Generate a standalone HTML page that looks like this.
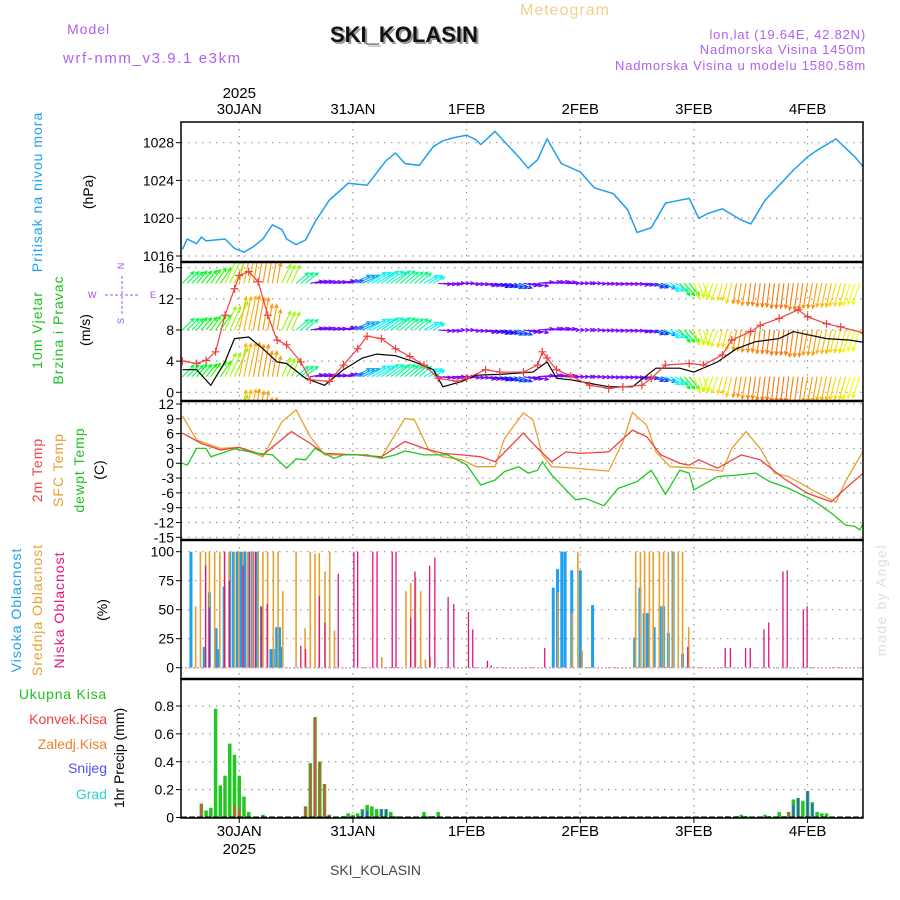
<!DOCTYPE html>
<html><head><meta charset="utf-8"><style>
html,body{margin:0;padding:0;background:#fff}
svg{display:block}
text{font-family:"Liberation Sans",sans-serif}
</style></head><body>
<svg id="chart" width="900" height="900" viewBox="0 0 900 900" xmlns="http://www.w3.org/2000/svg">
<rect x="0" y="0" width="900" height="900" fill="#fff"/>
<g id="texts">
<text x="520" y="15" font-size="16" fill="#f3cf8e" letter-spacing="1">Meteogram</text>
<text x="67" y="34" font-size="14" fill="#b060f0" letter-spacing="1">Model</text>
<text x="63" y="63" font-size="15" fill="#b060f0" letter-spacing="1.6">wrf-nmm_v3.9.1 e3km</text>
<text x="332" y="44" font-size="22" font-weight="bold" font-family="Liberation Serif, serif" fill="#9a9a9a">SKI_KOLASIN</text>
<text x="330" y="42" font-size="22" font-weight="bold" font-family="Liberation Serif, serif" fill="#111">SKI_KOLASIN</text>
<text x="866" y="39" font-size="13" fill="#b060f0" text-anchor="end" letter-spacing="0.8">lon,lat (19.64E, 42.82N)</text>
<text x="866" y="54" font-size="13" fill="#b060f0" text-anchor="end" letter-spacing="0.8">Nadmorska Visina 1450m</text>
<text x="866" y="70" font-size="13" fill="#b060f0" text-anchor="end" letter-spacing="0.8">Nadmorska Visina u modelu 1580.58m</text>

<text transform="translate(42,192) rotate(-90)" font-size="14" fill="#1ea0f0" text-anchor="middle" letter-spacing="1">Pritisak na nivou mora</text>
<text transform="translate(93,192) rotate(-90)" font-size="14" fill="#000" text-anchor="middle">(hPa)</text>

<text transform="translate(42,330) rotate(-90)" font-size="14" fill="#20c020" text-anchor="middle" letter-spacing="1">10m Vjetar</text>
<text transform="translate(63,330) rotate(-90)" font-size="14" fill="#20c020" text-anchor="middle" letter-spacing="1">Brzina i Pravac</text>
<text transform="translate(90,330) rotate(-90)" font-size="14" fill="#000" text-anchor="middle">(m/s)</text>
<g fill="#a050f0" font-size="9">
<text x="121" y="269" text-anchor="middle" transform="rotate(-90,121,266)">N</text>
<text x="88" y="298">W</text>
<text x="150" y="298">E</text>
<text x="121" y="324" text-anchor="middle" transform="rotate(-90,121,321)">S</text>
<line x1="105" y1="295" x2="140" y2="295" stroke="#a050f0" stroke-dasharray="3,2"/>
<line x1="122" y1="276" x2="122" y2="314" stroke="#a050f0" stroke-dasharray="3,2"/>
</g>

<text transform="translate(42,470) rotate(-90)" font-size="14" fill="#f04040" text-anchor="middle" letter-spacing="1">2m Temp</text>
<text transform="translate(63,470) rotate(-90)" font-size="14" fill="#e8a030" text-anchor="middle" letter-spacing="1">SFC Temp</text>
<text transform="translate(84,470) rotate(-90)" font-size="14" fill="#20c020" text-anchor="middle" letter-spacing="1">dewpt Temp</text>
<text transform="translate(104,470) rotate(-90)" font-size="14" fill="#000" text-anchor="middle">(C)</text>

<text transform="translate(21,610) rotate(-90)" font-size="14" fill="#1ea0f0" text-anchor="middle" letter-spacing="1">Visoka Oblacnost</text>
<text transform="translate(42,610) rotate(-90)" font-size="14" fill="#e8a030" text-anchor="middle" letter-spacing="1">Srednja Oblacnost</text>
<text transform="translate(64,610) rotate(-90)" font-size="14" fill="#e0147a" text-anchor="middle" letter-spacing="1">Niska Oblacnost</text>
<text transform="translate(107,610) rotate(-90)" font-size="14" fill="#000" text-anchor="middle">(%)</text>
<text transform="translate(886,600) rotate(-90)" font-size="14" fill="#d6e4d6" text-anchor="middle" font-family="Liberation Serif, serif" letter-spacing="1.5">made by Angel</text>

<g font-size="14" text-anchor="end">
<text x="107" y="699" fill="#20c020" letter-spacing="0.8">Ukupna Kisa</text>
<text x="107" y="724" fill="#f04040">Konvek.Kisa</text>
<text x="107" y="749" fill="#f08030">Zaledj.Kisa</text>
<text x="107" y="773" fill="#5050f0">Snijeg</text>
<text x="107" y="799" fill="#30d0d0">Grad</text>
</g>
<text transform="translate(124,758) rotate(-90)" font-size="14" fill="#000" text-anchor="middle">1hr Precip (mm)</text>
<text x="330" y="875" font-size="14" font-family="Liberation Serif, serif" fill="#444">SKI_KOLASIN</text>
</g>
<g id="plot"></g>
</svg>
<script>
// ---- data ----
const dayLabels = ["30JAN","31JAN","1FEB","2FEB","3FEB","4FEB"];
const dayHours = [12,36,60,84,108,132];
const yearLabel = "2025";

const presHours = [0,1,3,4,5,9,11,13,15,17,19,21,22,24,26,28,31,35,39,41,43,45,47,50,53,55,57,60,62,63,66,68,71,73,75,77,80,84,87,91,94,96,99,102,104,107,109,111,114,118,120,123,126,129,132,134,138,142,144];
const presVals = [1016.7,1017.8,1017.3,1018,1017.6,1017.8,1016.8,1016.4,1017,1017.8,1019.3,1018.8,1017.8,1017.2,1017.7,1019.6,1021.9,1023.7,1023.5,1024.8,1026.1,1026.9,1025.8,1025.6,1027.6,1028.2,1028.5,1028.8,1028.3,1027.8,1029.2,1028.1,1026.5,1025.3,1026.2,1028.4,1025.8,1024.9,1023.2,1022.6,1020.9,1018.5,1019,1021.6,1021.8,1022.1,1020,1020.5,1021,1019.8,1019.4,1021.9,1023.5,1025.1,1026.5,1027.2,1028.4,1026.5,1025.3];
const presTicks = [1016,1020,1024,1028];

const spdHours = [0,3,5,7,9,11,12,14,16,18,20,22,25,27,31,34,37,39,42,45,48,51,54,58,60,64,67,72,75,76,77,79,82,86,90,93,97,99,102,107,110,114,116,120,122,126,130,132,136,139,144];
const spdVals = [4.0,3.7,4.1,5.2,9.9,13.3,15.0,15.5,14.2,9.9,6.7,6.1,3.9,1.6,1.4,3.5,5.6,7.2,6.9,5.6,4.6,3.5,1.8,1.4,1.8,2.9,2.6,2.6,3.5,5.2,4.4,2.9,2.1,0.9,0.5,0.7,0.9,1.8,3.5,3.7,3.5,4.8,6.7,7.8,8.6,9.5,10.6,9.7,8.8,8.4,7.6];
const gustHours = [0,3,6,9,11,14,17,20,22,26,30,34,38,41,45,49,53,55,59,62,67,74,77,79,82,90,95,100,105,108,113,117,121,126,129,132,136,141,144];
const gustVals = [2.9,2.9,0.9,3.9,6.9,7.1,5.6,3.9,3.7,1.8,0.9,2.9,4.4,4.9,4.7,3.9,2.9,0.7,1.4,2.2,2.3,2.6,3.9,1.8,1.6,0.7,0.7,3.1,3.1,2.6,3.9,5.6,6.5,6.9,7.8,7.4,6.9,6.7,6.4];
const windDirHours = [0,3,6,9,12,15,18,21,24,27,30,33,36,39,42,45,48,51,54,57,60,63,66,69,72,75,78,81,84,87,90,93,96,99,102,105,108,111,114,117,120,123,126,129,132,135,138,141];
const windAngle = [45,50,55,65,78,80,80,65,40,10,8,10,25,30,35,40,40,30,-5,0,-5,-10,-15,-20,-10,5,5,0,0,-3,-5,-5,-10,-20,-30,-50,-70,-110,-105,-100,-98,-97,-97,-98,-100,-102,-105,-108];
const windTicks = [0,4,8,12,16];
const windBases = [-4,2,8,14,20];

const t2Hours = [0,4,8,12,17,23,27,30,37,42,47,51,55,59,63,66,72,75,78,81,84,90,95,98,101,105,107,109,113,118,122,127,132,137,140,144];
const t2Vals = [6.1,4.0,2.7,3.2,1.7,6.4,4.0,2.0,1.7,1.3,4.4,3.0,2.0,1.7,1.3,0.3,6.1,3.0,0.3,2.3,2.0,2.3,6.7,5.4,1.7,0,-0.4,0.7,-1.0,1.7,0.7,-3.1,-6.1,-7.8,-5.1,-1.8];
const sfcHours = [0,3,8,12,17,21,24,27,30,37,42,44,47,49,52,55,59,62,66,68,72,74,76,78,83,90,93,95,98,100,103,109,114,116,119,122,125,128,133,138,140,144];
const sfcVals = [9.6,4.7,3.0,3.2,1.3,8.4,10.8,5.4,1.7,1.7,1.1,4.4,9.1,8.8,2.7,1.3,0.7,-0.7,-0.7,5.0,10.2,8.8,1.7,-0.7,-1.0,-1.6,4.4,10.3,7.7,2.3,-0.7,-1.0,-1.6,3.0,6.4,3.0,-2.0,-2.7,-5.4,-7.9,-3.7,2.9];
const tdHours = [0,1,3,5,6,11,16,19,22,24,26,28,30,32,34,39,42,45,47,51,56,60,63,66,68,71,73,75,76,78,83,85,89,92,96,99,102,105,107,108,113,117,121,124,128,133,137,140,142,143,144];
const tdVals = [0,-0.4,3.0,3.0,1.3,2.9,2.0,1.7,-1.0,0.9,0.7,3.0,2.0,1.0,1.7,1.7,1.0,1.7,2.5,1.7,1.7,-0.3,-4.4,-3.4,-1.7,-0.7,-2.0,-1.4,0.3,-2.4,-7.4,-7.1,-8.6,-5.1,-3.7,-1.4,-6.3,-1.4,-2.0,-5.4,-2.7,-2.4,-2.0,-3.7,-5.1,-7.4,-10.1,-12.5,-12.8,-13.5,-11.8];
const tempTicks = [-15,-12,-9,-6,-3,0,3,6,9,12];

const hiHours = [1.8,4.6,5.7,7.1,7.7,8.8,10,10.8,11.6,12.4,13.2,14,14.8,15.6,16.7,18.7,19.2,19.9,20.5,21,78.3,79.2,80.1,80.8,82.2,84,86.6,95.5,96.6,97.5,98.2,99.6,100.9,101.6,102.6,103.6,105.6];
const hiVals = [100,18,65,34,16,70,100,100,100,100,100,100,100,100,53,16,16,35,35,18,69,85,100,100,84,84,54,26,69,47,47,35,53,53,30,100,12];
const midHours = [2.8,3.8,4.9,5.7,6.8,7.9,8.9,9.9,11,11.9,12.8,13.8,14.8,16,17,18,19.2,20.2,21.2,24,25.9,27,28,28.9,30.1,31.1,32.1,42.1,47.2,48.2,49.2,50.3,51.3,52.3,79.3,82.3,83.5,84.4,95.7,96.7,97.6,98.6,99.4,100.7,101.6,102.6,103.6,104.7,105.6,106.9];
const midVals = [53,100,100,100,100,100,100,100,100,100,100,100,100,100,100,100,100,100,66,100,34,100,98,99,83,100,32,9,66,73,78,66,7,9,65,47,100,15,100,100,100,100,100,100,100,100,100,100,100,35];
const lowHours = [4.9,5.7,8.9,9.9,12.8,14.2,15.4,16.7,17.9,25,26,28.9,30.1,32.9,36.2,37,40.2,41.1,44.3,45.1,48.2,49.1,52.2,53.3,56.1,57.3,60.4,61.3,64.4,65.2,76.5,106.7,114.6,115.7,118.9,119.9,122.8,123.8,126.8,127.7,131.1,131.9];
const lowVals = [88,52,100,75,88,100,100,52,55,19,16,62,39,81,100,100,100,100,100,100,43,83,88,95,61,55,48,33,6,2,17,18,17,17,17,17,33,39,83,84,50,53];
const cloudTicks = [0,25,50,75,100];

const prHours = [4,5,6,7,8,9,10,11,12,13,14,17,26,27,28,29,30,31,34,35,36,37,38,39,40,41,42,43,44,45,51,52,53,54,115,117,118,119,123,124,126,127,128,129,130,131,132,133,134,135,136];
const prTotal = [0.1,0.05,0.07,0.78,0.23,0.3,0.53,0.45,0.3,0.15,0.04,0.02,0.08,0.39,0.72,0.4,0.24,0.02,0.01,0.03,0.02,0.03,0.06,0.09,0.08,0.06,0.06,0.06,0.04,0.01,0.04,0.01,0.01,0.04,0.01,0.01,0.02,0.01,0.02,0.01,0.04,0.01,0.04,0.13,0.14,0.12,0.19,0.11,0.04,0.03,0.03];
const prConv = [0.1,0,0,0,0,0,0,0.09,0.06,0,0,0,0.08,0.38,0.72,0.4,0.24,0.02,0,0,0,0,0,0,0,0,0,0,0,0,0,0,0,0,0,0,0,0,0,0,0,0,0.04,0,0,0,0,0,0,0,0];
const prSnow = [0,0,0,0,0,0,0,0,0,0,0,0,0,0,0,0,0,0,0,0,0,0,0.05,0.05,0,0,0.06,0.06,0,0,0,0,0,0,0,0,0,0,0,0,0,0,0,0.09,0.14,0,0.19,0.1,0,0,0];
const prTicks = [0,0.2,0.4,0.6,0.8];

// ---- layout ----
const X0 = 181, X1 = 863, H0 = -0.3, H1 = 143.7;
const xs = h => X0 + (h - H0) / (H1 - H0) * (X1 - X0);
const lin = (v0, y0, v1, y1) => v => y0 + (v - v0) / (v1 - v0) * (y1 - y0);
const yP = lin(1016, 256, 1028, 142.7);
const yW = lin(0, 392.3, 16, 267.7);
const yT = lin(-15, 537.3, 12, 404);
const yC = lin(0, 667.7, 100, 551.7);
const yR = lin(0, 817.5, 0.8, 706);
const panels = [[122, 262], [262, 401], [401, 540], [540, 679], [679, 818]];

const NS = "http://www.w3.org/2000/svg";
const plot = document.getElementById("plot");
function mk(tag, attrs, parent) {
  const e = document.createElementNS(NS, tag);
  for (const k in attrs) e.setAttribute(k, attrs[k]);
  (parent || plot).appendChild(e);
  return e;
}
function path(hours, vals, yf) {
  return hours.map((h, i) => (i ? "L" : "M") + xs(h).toFixed(1) + "," + yf(vals[i]).toFixed(1)).join("");
}

const defs = mk("defs", {});
panels.forEach((p, i) => {
  const cp = mk("clipPath", { id: "clip" + i }, defs);
  mk("rect", { x: X0, y: p[0], width: X1 - X0, height: p[1] - p[0] }, cp);
});

const grid = mk("g", { stroke: "#999", "stroke-width": 1.2, "stroke-dasharray": "1.5,5.5" });


dayHours.forEach(h => {
  panels.forEach(p => mk("line", { x1: xs(h), x2: xs(h), y1: p[0], y2: p[1] }, grid));
});
function hgrid(ticks, yf, name) {
  const g = mk("g", {});
  
  
  ticks.forEach(t => {
    mk("line", { x1: X0, x2: X1, y1: yf(t), y2: yf(t), stroke: "#999", "stroke-width": 1.2, "stroke-dasharray": "1.5,5.5" }, g);
    mk("line", { x1: X0 - 5, x2: X0, y1: yf(t), y2: yf(t), stroke: "#000" }, g);
    const tx = mk("text", { x: X0 - 7, y: yf(t) + 5, "font-size": 14, "text-anchor": "end", fill: "#000" }, g);
    tx.textContent = t;
  });
}
hgrid(presTicks, yP, "pressure-y-axis");
hgrid(windTicks, yW, "wind-y-axis");
hgrid(tempTicks, yT, "temp-y-axis");
hgrid(cloudTicks, yC, "cloud-y-axis");
hgrid(prTicks, yR, "precip-y-axis");

dayLabels.forEach((d, i) => {
  const t = mk("text", { x: xs(dayHours[i]), y: 114, "font-size": 15, "text-anchor": "middle", fill: "#000" });
  
  
  t.textContent = d;
  const b = mk("text", { x: xs(dayHours[i]), y: 836, "font-size": 15, "text-anchor": "middle", fill: "#000" });
  
  
  b.textContent = d;
  mk("line", { x1: xs(dayHours[i]), x2: xs(dayHours[i]), y1: 818, y2: 823, stroke: "#000" });
});
const yt = mk("text", { x: xs(dayHours[0]), y: 98, "font-size": 15, "text-anchor": "middle" });


yt.textContent = yearLabel;
const yb = mk("text", { x: xs(dayHours[0]), y: 854, "font-size": 15, "text-anchor": "middle" });


yb.textContent = yearLabel;

const pl = mk("path", { d: path(presHours, presVals, yP), fill: "none", stroke: "#1ea0f0", "stroke-width": 1.5, "clip-path": "url(#clip0)" });



function spdAt(h) {
  let best = 0;
  spdHours.forEach((sh, i) => { if (Math.abs(sh - h) < Math.abs(spdHours[best] - h)) best = i; });
  return spdVals[best];
}
function hueFor(angDeg) {
  const a = Math.abs(angDeg) > 90 ? 180 - Math.abs(angDeg) : Math.abs(angDeg);
  const f = a / 90;
  if (f < 0.1) return 270;
  if (f < 0.35) return 270 - (f - 0.1) / 0.25 * 95;
  if (f < 0.7) return 175 - (f - 0.35) / 0.35 * 85;
  return 90 - (f - 0.7) / 0.3 * 85;
}
const wg = mk("g", { "clip-path": "url(#clip1)", "stroke-width": 1.1, fill: "none" });


windDirHours.forEach((h0, i) => {
  const ang = windAngle[i] * Math.PI / 180;
  const col = "hsl(" + hueFor(windAngle[i]).toFixed(0) + ",95%,50%)";
  for (let k = 0; k < 3; k++) {
    const h = h0 + k;
    if (h > 144) continue;
    const L = 10 + spdAt(h) * 1.6;
    const dx = Math.cos(ang) * L, dy = -Math.sin(ang) * L;
    windBases.forEach(b => {
      const x = xs(h), y = yW(b);
      const tx = x + dx, ty = y + dy;
      const a2 = Math.atan2(dy, dx);
      const hx1 = tx - 4 * Math.cos(a2 - 0.45), hy1 = ty - 4 * Math.sin(a2 - 0.45);
      const hx2 = tx - 4 * Math.cos(a2 + 0.45), hy2 = ty - 4 * Math.sin(a2 + 0.45);
      const ar = mk("path", { d: `M${x},${y}L${tx},${ty}M${hx1},${hy1}L${tx},${ty}L${hx2},${hy2}`, stroke: col }, wg);
      
      
    });
  }
});
const gl = mk("path", { d: path(gustHours, gustVals, yW), fill: "none", stroke: "#000", "stroke-width": 1.2, "clip-path": "url(#clip1)" });


const sl = mk("path", { d: path(spdHours, spdVals, yW), fill: "none", stroke: "#f04040", "stroke-width": 1.2, "clip-path": "url(#clip1)" });


const mg = mk("g", { stroke: "#f04040", "stroke-width": 1.2, "clip-path": "url(#clip1)" });


spdHours.forEach((h, i) => {
  const x = xs(h), y = yW(spdVals[i]);
  mk("path", { d: `M${x - 4},${y}H${x + 4}M${x},${y - 4}V${y + 4}` }, mg);
});

[[sfcHours, sfcVals, "#e8a030", "sfc-temp-line"], [t2Hours, t2Vals, "#f04040", "temp-2m-line"], [tdHours, tdVals, "#20c820", "dewpoint-line"]].forEach(s => {
  const l = mk("path", { d: path(s[0], s[1], yT), fill: "none", stroke: s[2], "stroke-width": 1.3, "clip-path": "url(#clip2)" });
  
  
});

function bars(hours, vals, yf, col, w, name, clip) {
  const g = mk("g", { fill: col, "clip-path": clip });
  
  
  hours.forEach((h, i) => {
    if (!vals[i]) return;
    const y = yf(vals[i]), y0 = yf(0);
    mk("rect", { x: xs(h) - w / 2, y: y, width: w, height: y0 - y }, g);
  });
}
bars(hiHours, hiVals, yC, "#1ea0f0", 3, "high-cloud-bars", "url(#clip3)");
bars(midHours, midVals, yC, "#e8a030", 1.6, "mid-cloud-bars", "url(#clip3)");
bars(lowHours, lowVals, yC, "#e0147a", 1.3, "low-cloud-bars", "url(#clip3)");
const cb = mk("line", { x1: X0, x2: X1, y1: yC(0), y2: yC(0), stroke: "#e0a0d0", "stroke-width": 1.5, "stroke-dasharray": "2,2" });



bars(prHours, prTotal, yR, "#20c820", 3.5, "precip-total-bars", "url(#clip4)");
bars(prHours, prConv, yR, "#f04040", 1.8, "precip-convective-bars", "url(#clip4)");
bars(prHours, prSnow, yR, "#4050f0", 1.8, "precip-snow-bars", "url(#clip4)");
const pb = mk("line", { x1: X0, x2: X1, y1: yR(0), y2: yR(0), stroke: "#000", "stroke-width": 2, "stroke-dasharray": "6,2" });



panels.forEach((p, i) => {
  const r = mk("rect", { x: X0, y: p[0], width: X1 - X0, height: p[1] - p[0], fill: "none", stroke: "#000", "stroke-width": 1.5 });
  
  
});
[262, 401, 540, 679].forEach(y => mk("line", { x1: X0, x2: X1, y1: y, y2: y, stroke: "#000", "stroke-width": 2.5 }));
</script>
</body></html>
